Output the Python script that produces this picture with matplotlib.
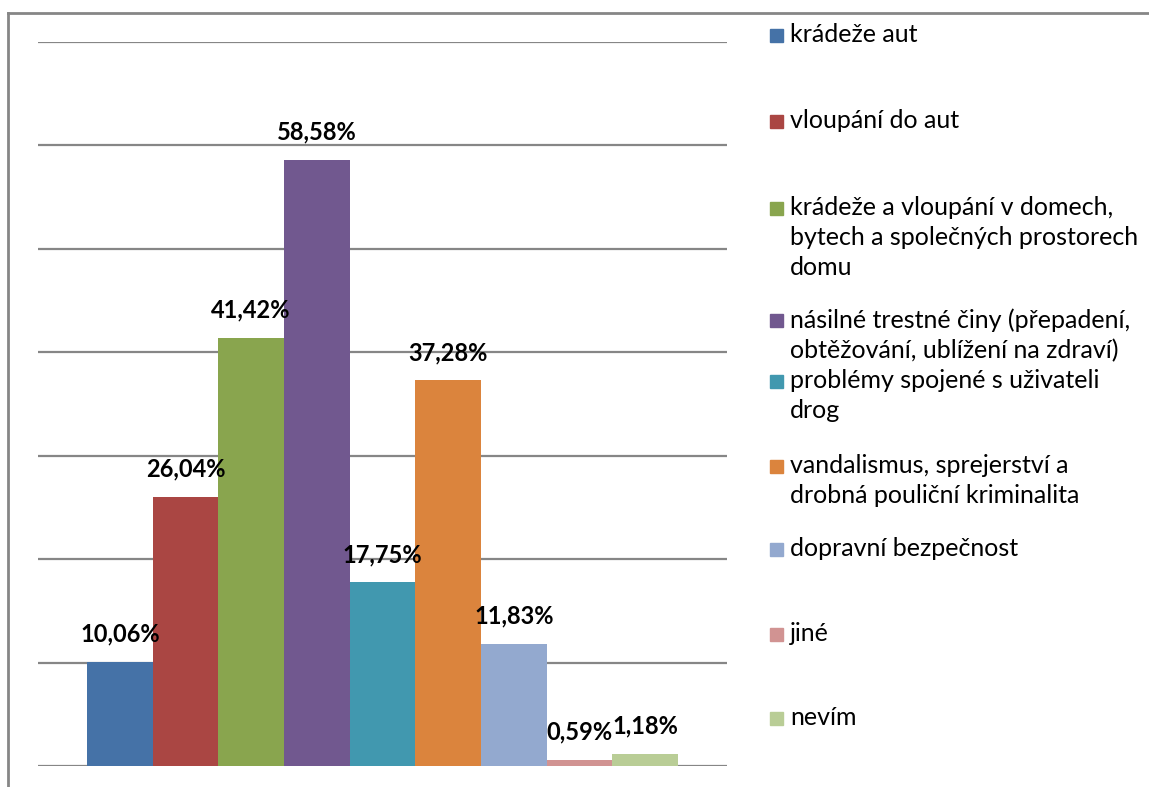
import numpy as np
import matplotlib.pyplot as plt
from matplotlib.lines import Line2D
from matplotlib.patches import Rectangle

# data
categories = [
    'krádeže aut',
    'vloupání do aut',
    'krádeže a vloupání v domech,\nbytech a společných prostorech\ndomu',
    'násilné trestné činy (přepadení,\nobtěžování, ublížení na zdraví)',
    'problémy spojené s uživateli\ndrog',
    'vandalismus, sprejerství a\ndrobná pouliční kriminalita',
    'dopravní bezpečnost',
    'jiné',
    'nevím',
]
values = [10.06, 26.04, 41.42, 58.58, 17.75, 37.28, 11.83, 0.59, 1.18]
colors = ['#4572A7', '#AA4643', '#89A54E', '#71588F', '#4198AF',
          '#DB843D', '#93A9CF', '#D19392', '#B9CD96']

plt.rcParams['font.family'] = ['Lato', 'DejaVu Sans']

W, H = 1149, 787
fig = plt.figure(figsize=(W / 100, H / 100), dpi=100)

# plot area in pixels
x0, x1, yb, yt = 38, 727, 766, 42
ax = fig.add_axes([x0 / W, 1 - yb / H, (x1 - x0) / W, (yb - yt) / H])

n = len(values)
bw = 591 / 689 / n  # bar width in axis fraction units
xs = 0.5 + (np.arange(n) - (n - 1) / 2) * bw
ax.bar(xs, values, width=bw, color=colors, zorder=3)
for x, v in zip(xs, values):
    ax.annotate(f'{v:.2f}%'.replace('.', ','), (x, v), xytext=(0, 20),
                textcoords='offset points', ha='center', va='center',
                fontsize=17, fontweight='bold', zorder=4)

ax.set_xlim(0, 1)
ax.set_ylim(0, 70)
ax.set_yticks(np.arange(0, 71, 10))
ax.yaxis.grid(True, color='#868686', linewidth=1.6, zorder=0)
ax.set_xticks([])
ax.tick_params(left=False, labelleft=False)
for s in ax.spines.values():
    s.set_visible(False)

# legend drawn by hand so wrapped labels sit like the original
leg_y = [35, 121, 208, 320, 381, 466, 549, 634, 718]
for lab, c, y in zip(categories, colors, leg_y):
    fig.patches.append(Rectangle((770 / W, 1 - (y + 7) / H), 13 / W, 13 / H,
                                 transform=fig.transFigure, color=c))
    fig.text(790 / W, 1 - (y - 12) / H, lab, fontsize=18, va='top',
             ha='left', linespacing=1.36, color='#000000')

# outer frame (left and top edges visible)
fig.add_artist(Line2D([8 / W, 8 / W], [0, 1 - 13 / H], color='#868686',
                      lw=2, transform=fig.transFigure))
fig.add_artist(Line2D([8 / W, 1], [1 - 13 / H, 1 - 13 / H], color='#868686',
                      lw=2, transform=fig.transFigure))

fig.savefig('out.png', dpi=100)
